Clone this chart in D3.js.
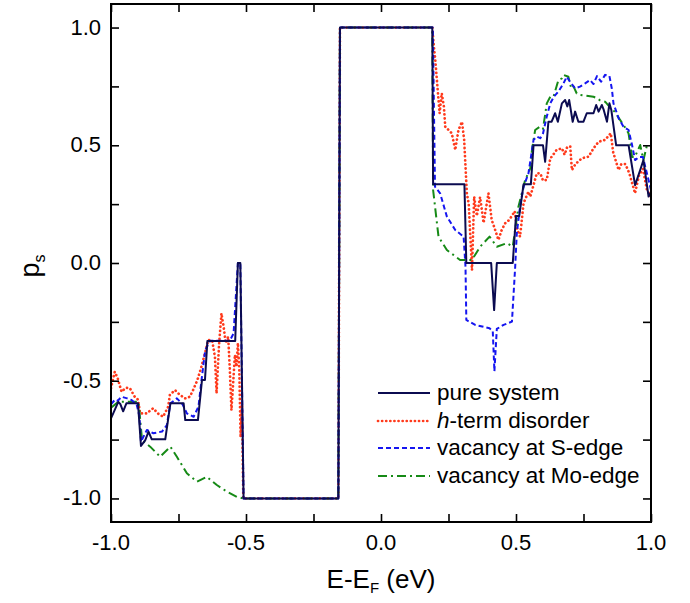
<!DOCTYPE html>
<html>
<head>
<meta charset="utf-8">
<script src="https://cdn.jsdelivr.net/npm/d3@7"></script>
<style>
  body { margin: 0; background: #fff; }
  svg text { font-family: "Liberation Sans", Arial, sans-serif; }
</style>
</head>
<body>
<svg id="svg" width="690" height="603"></svg>
<script>
// data: [E-EF, ps]
var pure = [[-1.0,-0.66],[-0.973,-0.59],[-0.965,-0.6],[-0.955,-0.63],[-0.943,-0.596],[-0.9,-0.596],[-0.889,-0.777],
  [-0.873,-0.752],[-0.861,-0.716],[-0.849,-0.749],[-0.799,-0.749],[-0.78,-0.596],[-0.731,-0.596],[-0.725,-0.667],
  [-0.678,-0.667],[-0.663,-0.497],[-0.652,-0.497],[-0.643,-0.331],[-0.54,-0.331],[-0.53,0],[-0.521,0],[-0.509,-1],
  [-0.158,-1],[-0.152,1],[0.19,1],[0.193,0.334],[0.309,0.334],[0.316,0],[0.408,0],[0.419,-0.2],[0.429,0],[0.488,0],
  [0.5,0.2],[0.512,0.2],[0.528,0.334],[0.555,0.334],[0.565,0.5],[0.6,0.5],[0.608,0.43],[0.62,0.6],[0.632,0.6],
  [0.645,0.636],[0.655,0.6],[0.67,0.678],[0.682,0.692],[0.69,0.665],[0.697,0.692],[0.71,0.6],[0.719,0.643],
  [0.731,0.6],[0.75,0.6],[0.762,0.636],[0.787,0.636],[0.797,0.671],[0.806,0.643],[0.818,0.671],[0.825,0.65],
  [0.837,0.6],[0.846,0.678],[0.853,0.65],[0.871,0.5],[0.917,0.5],[0.941,0.331],[0.96,0.395],[0.972,0.437],
  [0.991,0.282],[1.0,0.3]];

var hterm = [[-1.0,-0.532],[-0.986,-0.462],[-0.975,-0.49],[-0.961,-0.547],[-0.945,-0.53],[-0.93,-0.532],[-0.912,-0.568],
  [-0.9,-0.58],[-0.892,-0.639],[-0.868,-0.639],[-0.844,-0.617],[-0.825,-0.64],[-0.807,-0.653],[-0.788,-0.61],
  [-0.782,-0.56],[-0.763,-0.54],[-0.745,-0.56],[-0.726,-0.575],[-0.708,-0.568],[-0.696,-0.54],[-0.68,-0.497],
  [-0.665,-0.44],[-0.652,-0.384],[-0.64,-0.327],[-0.625,-0.33],[-0.615,-0.4],[-0.609,-0.554],[-0.6,-0.35],
  [-0.591,-0.214],[-0.583,-0.27],[-0.575,-0.34],[-0.566,-0.313],[-0.56,-0.45],[-0.554,-0.625],[-0.547,-0.5],
  [-0.541,-0.39],[-0.535,-0.44],[-0.53,-0.34],[-0.525,-0.45],[-0.52,-0.74],[-0.515,-0.6],[-0.51,-1.0],
  [-0.158,-1],[-0.152,1],[0.19,1],[0.195,0.93],[0.201,0.862],[0.209,0.749],[0.217,0.636],[0.225,0.721],
  [0.233,0.664],[0.238,0.579],[0.25,0.565],[0.262,0.551],[0.275,0.48],[0.287,0.565],[0.3,0.6],[0.308,0.523],
  [0.318,0.296],[0.325,0.25],[0.337,-0.03],[0.345,0.282],[0.355,0.2],[0.367,0.28],[0.38,0.17],[0.398,0.296],
  [0.41,0.183],[0.42,0.15],[0.435,0.098],[0.447,0.14],[0.46,0.169],[0.472,0.18],[0.485,0.2],[0.495,0.22],
  [0.505,0.14],[0.515,0.112],[0.528,0.254],[0.546,0.303],[0.553,0.282],[0.577,0.381],[0.59,0.381],[0.6,0.35],
  [0.614,0.353],[0.627,0.445],[0.633,0.452],[0.65,0.48],[0.67,0.487],[0.68,0.46],[0.69,0.494],[0.701,0.494],
  [0.707,0.395],[0.72,0.42],[0.744,0.445],[0.769,0.452],[0.787,0.487],[0.806,0.515],[0.83,0.523],[0.851,0.551],
  [0.86,0.47],[0.88,0.395],[0.89,0.42],[0.905,0.42],[0.92,0.38],[0.941,0.296],[0.955,0.37],[0.97,0.4],
  [0.985,0.31],[1.0,0.28]];

var sEdge = [[-1.0,-0.6],[-0.985,-0.58],[-0.975,-0.585],[-0.961,-0.568],[-0.94,-0.575],[-0.924,-0.582],[-0.905,-0.6],
  [-0.895,-0.65],[-0.889,-0.759],[-0.867,-0.709],[-0.843,-0.723],[-0.811,-0.716],[-0.793,-0.688],[-0.78,-0.596],
  [-0.756,-0.575],[-0.735,-0.6],[-0.719,-0.639],[-0.694,-0.653],[-0.676,-0.61],[-0.665,-0.5],[-0.651,-0.37],
  [-0.633,-0.33],[-0.56,-0.33],[-0.546,-0.299],[-0.53,0],[-0.521,0],[-0.509,-1],[-0.158,-1],[-0.152,1],[0.192,1],
  [0.2,0.324],[0.219,0.296],[0.244,0.197],[0.275,0.14],[0.306,0.112],[0.313,-0.016],[0.316,-0.242],[0.349,-0.263],
  [0.402,-0.277],[0.414,-0.29],[0.42,-0.46],[0.429,-0.28],[0.454,-0.263],[0.485,-0.249],[0.497,-0.016],
  [0.503,0.127],[0.515,0.239],[0.528,0.324],[0.546,0.38],[0.565,0.523],[0.577,0.537],[0.59,0.53],[0.6,0.55],
  [0.614,0.622],[0.627,0.678],[0.64,0.706],[0.657,0.728],[0.676,0.763],[0.688,0.791],[0.7,0.77],[0.719,0.742],
  [0.737,0.749],[0.756,0.763],[0.774,0.777],[0.787,0.76],[0.8,0.794],[0.815,0.77],[0.83,0.799],[0.846,0.794],
  [0.855,0.74],[0.861,0.678],[0.88,0.615],[0.898,0.579],[0.917,0.565],[0.93,0.5],[0.941,0.437],[0.955,0.45],
  [0.97,0.45],[0.985,0.38],[1.0,0.31]];

var moEdge = [[-1.0,-0.615],[-0.972,-0.589],[-0.898,-0.589],[-0.885,-0.752],[-0.855,-0.78],[-0.818,-0.823],
  [-0.78,-0.78],[-0.756,-0.823],[-0.719,-0.893],[-0.682,-0.929],[-0.645,-0.908],[-0.608,-0.943],[-0.571,-0.971],
  [-0.534,-0.993],[-0.51,-1.0],[-0.158,-1],[-0.152,1],[0.19,1],[0.193,0.31],[0.213,0.112],[0.244,0.055],
  [0.293,0.013],[0.337,0.013],[0.367,0.069],[0.402,0.112],[0.429,0.069],[0.466,0.084],[0.488,0.07],[0.509,0.239],
  [0.534,0.353],[0.553,0.402],[0.559,0.48],[0.571,0.565],[0.59,0.58],[0.6,0.57],[0.614,0.678],[0.627,0.706],
  [0.639,0.706],[0.657,0.777],[0.67,0.784],[0.676,0.799],[0.694,0.791],[0.705,0.74],[0.713,0.75],[0.725,0.72],
  [0.738,0.714],[0.787,0.706],[0.8,0.7],[0.812,0.69],[0.83,0.685],[0.846,0.664],[0.865,0.643],[0.886,0.607],
  [0.91,0.565],[0.917,0.55],[0.93,0.45],[0.94,0.45],[0.96,0.501],[0.972,0.437],[0.985,0.5],[1.0,0.5]];

var seriesNames = ["pure system", "h-term disorder", "vacancy at S-edge", "vacancy at Mo-edge"];
var xTicks = [-1.0, -0.5, 0.0, 0.5, 1.0];
var yTicks = [-1.0, -0.5, 0.0, 0.5, 1.0];
var minorTicks = [-1.0, -0.75, -0.5, -0.25, 0.0, 0.25, 0.5, 0.75, 1.0];

function draw(){
  var svg = d3.select("#svg");
  var left = 111, right = 651, top = 4, bottom = 522;

  var x = d3.scaleLinear().domain([-1, 1]).range([left, right]);
  var y = d3.scaleLinear().domain([-1.1, 1.1]).range([bottom, top]);

  var styles = [
    {data: hterm,  color: "#ff3a1c", width: 2.7, dash: "0.1,4", cap: "round"},
    {data: moEdge, color: "#168a16", width: 2,   dash: "9,4,2,4", cap: "butt"},
    {data: sEdge,  color: "#1515f0", width: 2,   dash: "5,3",     cap: "butt"},
    {data: pure,   color: "#0b0b50", width: 2,   dash: null,      cap: "butt"}
  ];

  var line = d3.line().x(function(d){ return x(d[0]); }).y(function(d){ return y(d[1]); });

  svg.append("clipPath").attr("id", "clip").append("rect")
    .attr("x", left).attr("y", top).attr("width", right - left).attr("height", bottom - top);

  var gLines = svg.append("g").attr("clip-path", "url(#clip)");
  styles.forEach(function(s){
    gLines.append("path")
      .attr("d", line(s.data))
      .attr("fill", "none")
      .attr("stroke", s.color)
      .attr("stroke-width", s.width)
      .attr("stroke-linejoin", "round")
      .attr("stroke-linecap", s.cap)
      .attr("stroke-dasharray", s.dash);
  });

  // axes: ticks pointing inward on all four sides
  var tl = 8;
  var gAxis = svg.append("g");
  gAxis.append("g").attr("transform", "translate(0," + bottom + ")")
    .call(d3.axisTop(x).tickValues(minorTicks).tickSize(tl).tickFormat(""));
  gAxis.append("g").attr("transform", "translate(0," + top + ")")
    .call(d3.axisBottom(x).tickValues(minorTicks).tickSize(tl).tickFormat(""));
  gAxis.append("g").attr("transform", "translate(" + left + ",0)")
    .call(d3.axisRight(y).tickValues(minorTicks).tickSize(tl).tickFormat(""));
  gAxis.append("g").attr("transform", "translate(" + right + ",0)")
    .call(d3.axisLeft(y).tickValues(minorTicks).tickSize(tl).tickFormat(""));
  gAxis.selectAll(".domain").remove();
  gAxis.selectAll("line").attr("stroke", "#000").attr("stroke-width", 1.6);

  svg.append("rect")
    .attr("x", left).attr("y", top).attr("width", right - left).attr("height", bottom - top)
    .attr("fill", "none").attr("stroke", "#000").attr("stroke-width", 2);

  // tick labels
  svg.selectAll(".xl").data(xTicks).enter().append("text")
    .attr("x", function(d){ return x(d); })
    .attr("y", 550)
    .attr("text-anchor", "middle")
    .attr("font-size", 22)
    .text(function(d){ return d3.format(".1f")(d).replace("−", "-"); });

  svg.selectAll(".yl").data(yTicks).enter().append("text")
    .attr("x", 101)
    .attr("y", function(d){ return y(d) + 7; })
    .attr("text-anchor", "end")
    .attr("font-size", 22)
    .text(function(d){ return d3.format(".1f")(d).replace("−", "-"); });

  // axis titles
  var xt = svg.append("text").attr("x", 381).attr("y", 588).attr("text-anchor", "middle").attr("font-size", 26);
  xt.append("tspan").text("E-E");
  xt.append("tspan").attr("font-size", 15).attr("dy", 5).text("F");
  xt.append("tspan").attr("dy", -5).text(" (eV)");

  var yt = svg.append("text").attr("transform", "translate(39,266) rotate(-90)")
    .attr("text-anchor", "middle").attr("font-size", 27);
  yt.append("tspan").text("p");
  yt.append("tspan").attr("font-size", 16).attr("dy", 6).text("s");

  // legend
  var legendOrder = [pure, hterm, sEdge, moEdge].map(function(d){
    return styles.filter(function(s){ return s.data === d; })[0];
  });
  var rows = [393, 421, 448, 476];
  legendOrder.forEach(function(s, i){
    svg.append("line")
      .attr("x1", 378).attr("x2", 430).attr("y1", rows[i]).attr("y2", rows[i])
      .attr("stroke", s.color).attr("stroke-width", s.width)
      .attr("stroke-linecap", s.cap).attr("stroke-dasharray", s.dash);
    var t = svg.append("text").attr("x", 437).attr("y", rows[i] + 7).attr("font-size", 22.5);
    if (i === 1) {
      t.append("tspan").attr("font-style", "italic").text("h");
      t.append("tspan").text("-term disorder");
    } else {
      t.text(seriesNames[i]);
    }
  });
}
draw();
</script>
</body>
</html>
